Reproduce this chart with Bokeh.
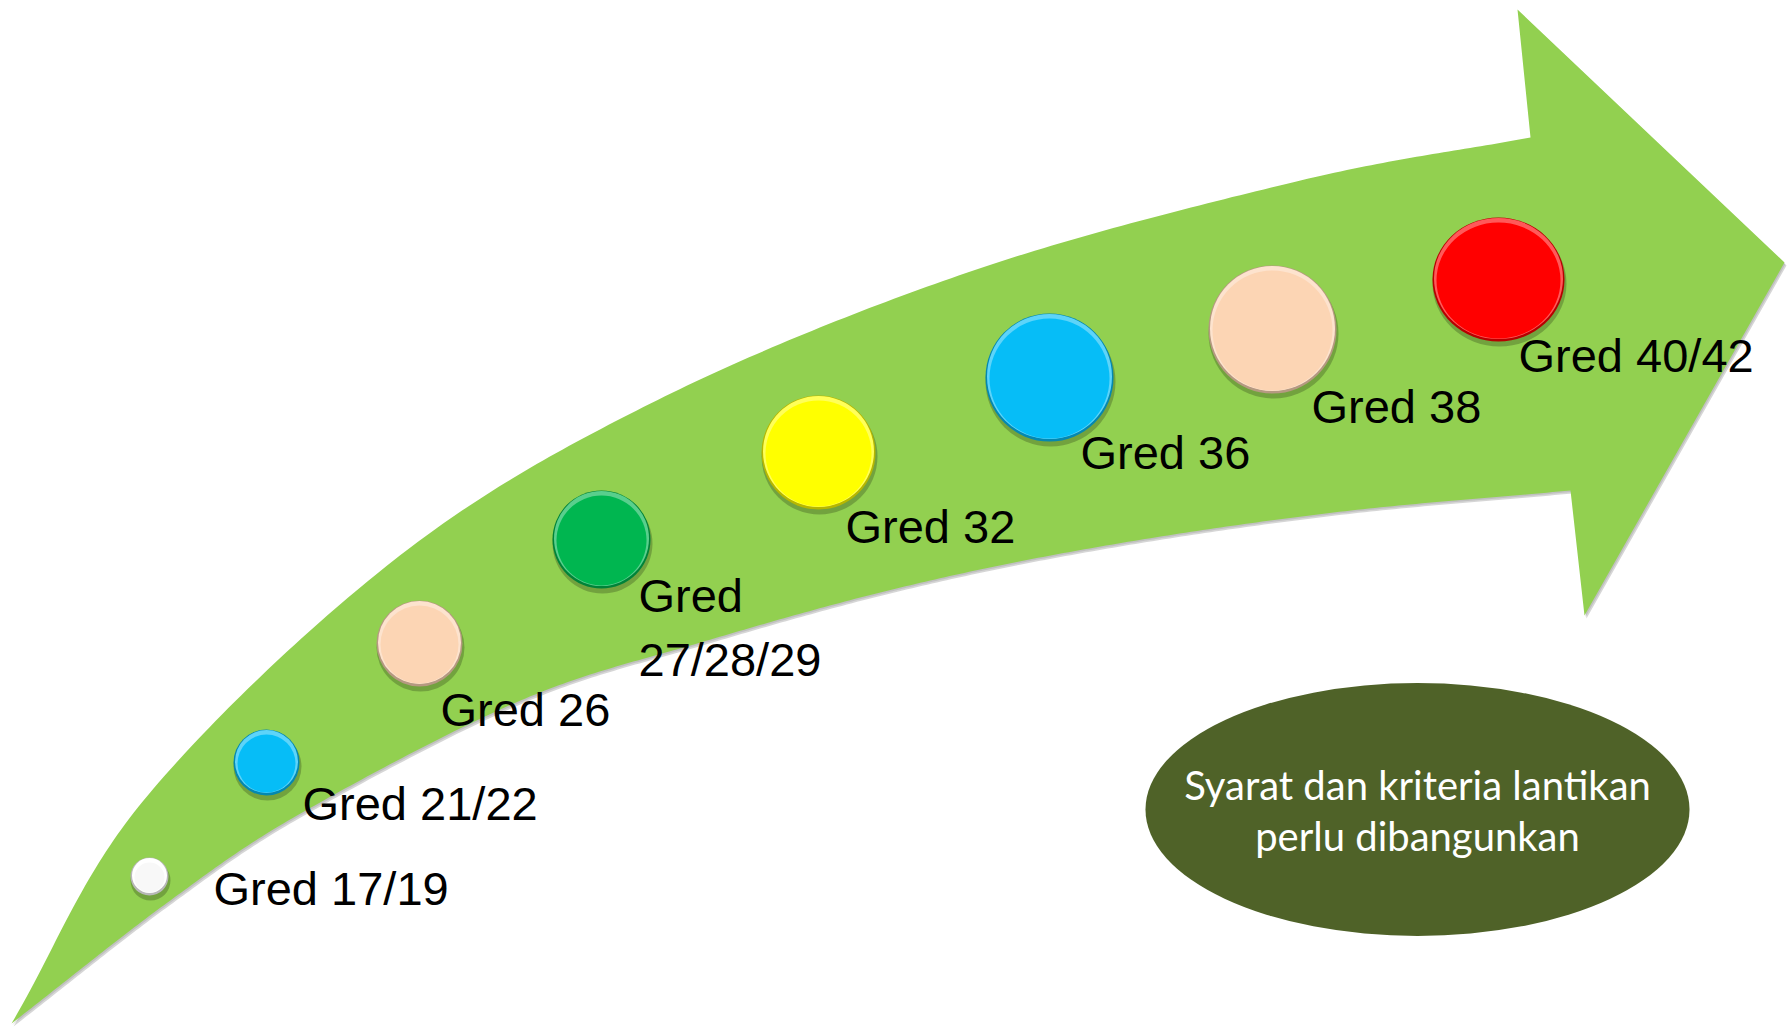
import numpy as np
from bokeh.plotting import figure
from bokeh.models import Range1d
from bokeh.core.properties import value
from bokeh.embed import file_html
from bokeh.resources import INLINE

# ---------------- data ----------------
grades = ["Gred 17/19", "Gred 21/22", "Gred 26", "Gred\n27/28/29",
          "Gred 32", "Gred 36", "Gred 38", "Gred 40/42"]
dot_colors = ["#FFFFFF", "#06BDF7", "#FCD5B4", "#00B650",
              "#FFFF00", "#06BDF7", "#FCD5B4", "#FF0000"]
note_lines = ["Syarat dan kriteria lantikan", "perlu dibangunkan"]

# ---------------- layout (pixel space of the picture) ----------------
W, H = 1790, 1027
dot_x = [149, 266, 419, 601, 818, 1049, 1272, 1498]
dot_y = [876, 762, 643, 539, 452, 377, 329, 279]
dot_rx = [19, 33, 43, 49, 57, 64, 64, 66]
dot_ry = [19, 33, 43, 49, 57, 64, 64, 62]
lab_x = [213, 302, 440, 638, 845, 1080, 1311, 1518]
lab_y = [888, 803, 709, 595, 526, 452, 406, 355]   # middle of capitals
LINE_GAP = 64

upper_edge = [(11, 1023), (143, 800), (393, 560), (650, 403), (967, 272),
              (1300, 180), (1530, 137)]
head = [(1517, 9), (1784, 262), (1584, 615), (1570, 490)]
lower_edge = [(11, 1023), (167, 902), (300, 813), (520, 700), (700, 642), (900, 587),
              (1100, 546), (1333, 512), (1570, 490)]

ARROW = "#92D050"
NOTE_FILL = "#4F6228"


def catmull(pts, n=40):
    pts = np.asarray(pts, float)
    P = np.vstack([2 * pts[0] - pts[1], pts, 2 * pts[-1] - pts[-2]])
    out = []
    for i in range(1, len(P) - 2):
        p0, p1, p2, p3 = P[i - 1], P[i], P[i + 1], P[i + 2]
        t = np.linspace(0, 1, n, endpoint=False)[:, None]
        seg = 0.5 * ((2 * p1) + (-p0 + p2) * t + (2 * p0 - 5 * p1 + 4 * p2 - p3) * t ** 2
                     + (-p0 + 3 * p1 - 3 * p2 + p3) * t ** 3)
        out.append(seg)
    out.append(pts[-1][None, :])
    return np.vstack(out)


def shade(hexcol, f):
    h = hexcol.lstrip("#")
    rgb = np.array([int(h[i:i + 2], 16) for i in (0, 2, 4)], float)
    if f < 0:
        rgb = rgb * (1 + f)
    else:
        rgb = rgb + (255 - rgb) * f
    rgb = np.clip(rgb, 0, 255).astype(int)
    return "#%02X%02X%02X" % tuple(rgb)


up = catmull(upper_edge)
lo = catmull(lower_edge)[::-1]
outline = np.vstack([up, np.array(head, float), lo])
ax, ay = outline[:, 0], outline[:, 1]

p = figure(width=W, height=H, x_range=Range1d(0, W), y_range=Range1d(H, 0),
           output_backend="svg", toolbar_location=None, min_border=0)
p.axis.visible = False
p.grid.visible = False
p.outline_line_color = None
p.background_fill_color = "white"
p.border_fill_color = "white"

# arrow shadow + body
p.patch(ax + 2, ay + 3, fill_color="#000000", fill_alpha=0.16, line_color=None)
p.patch(ax + 1, ay + 1.5, fill_color="#000000", fill_alpha=0.10, line_color=None)
p.patch(ax, ay, fill_color=ARROW, line_color=None)

# dots with bevel look
dx = np.array(dot_x, float)
dy = np.array(dot_y, float)
rx = np.array(dot_rx, float)
ry = np.array(dot_ry, float)
rim = [shade(c, -0.28) if c != "#FFFFFF" else "#B8B8B8" for c in dot_colors]
hi = [shade(c, 0.35) for c in dot_colors]
face = [c if c != "#FFFFFF" else "#F8F8F8" for c in dot_colors]

p.ellipse(dx + 1, dy + 4, width=2 * rx + 2, height=2 * ry + 2,
          fill_color="#000000", fill_alpha=0.22, line_color=None)
p.ellipse(dx, dy, width=2 * rx, height=2 * ry, fill_color=rim, line_color=None)
p.ellipse(dx, dy - 1, width=2 * rx - 3, height=2 * ry - 3, fill_color=hi, line_color=None)
p.ellipse(dx, dy + 1, width=2 * rx - 8, height=2 * ry - 8, fill_color=face, line_color=None)

# labels
tx, ty, tt = [], [], []
for g, x, y in zip(grades, lab_x, lab_y):
    for k, line in enumerate(g.split("\n")):
        tx.append(x)
        ty.append(y + k * LINE_GAP)
        tt.append(line)
p.text(tx, ty, text=tt, text_font=value("Liberation Sans"), text_font_size="47px",
       text_color="black", text_align="left", text_baseline="middle")

# note ellipse
p.ellipse([1417], [809], width=544, height=253, fill_color=NOTE_FILL, line_color=None)
p.text([1417, 1417], [784, 835], text=note_lines, text_font=value("Lato"),
       text_font_size="40px", text_color="white", text_align="center",
       text_baseline="middle")

open("out.html", "w").write(file_html(p, INLINE))
